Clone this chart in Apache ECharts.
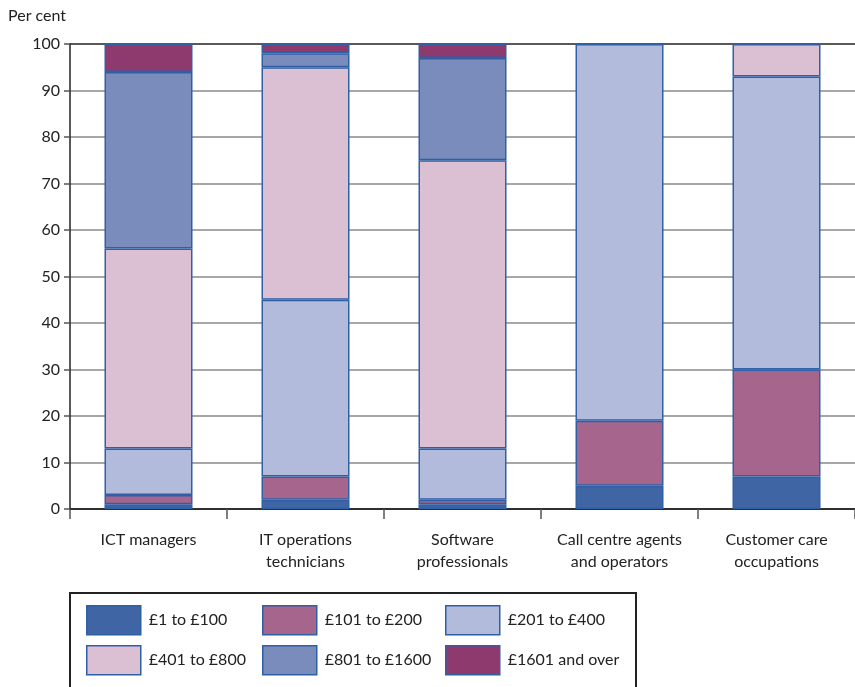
<!DOCTYPE html>
<html>
<head>
<meta charset="utf-8">
<script src="https://cdn.jsdelivr.net/npm/echarts@6/dist/echarts.min.js"></script>
<style>
html, body { margin: 0; padding: 0; background: #fff; }
#chartmain { width: 855px; height: 687px; }
</style>
</head>
<body>
<div id="chartmain"></div>
<script>
var categories = ['ICT managers', 'IT operations\ntechnicians', 'Software\nprofessionals',
	'Call centre agents\nand operators', 'Customer care\noccupations'];
var bandNames = ['£1 to £100', '£101 to £200', '£201 to £400', '£401 to £800', '£801 to £1600', '£1601 and over'];
var band1 = [1, 2, 1, 5, 7];
var band2 = [2, 5, 1, 14, 23];
var band3 = [10, 38, 11, 81, 63];
var band4 = [43, 50, 62, 0, 7];
var band5 = [38, 3, 22, 0, 0];
var band6 = [6, 2, 3, 0, 0];
var bandColors = ['#4065a4', '#a6658c', '#b2bbdb', '#dbc0d4', '#7a8cbc', '#8e3a6f'];

var bands = [band1, band2, band3, band4, band5, band6];
var font = 'Lato, "Open Sans", sans-serif';

var series = bands.map(function(vals, i) {
	return {
		name : bandNames[i],
		type : 'bar',
		stack : 'total',
		barWidth : 88,
		itemStyle : {
			color : bandColors[i],
			borderColor : '#2f5fa5',
			borderWidth : 1.5
		},
		data : vals.map(function(v) { return v === 0 ? '-' : v; })
	};
});

// one legend per entry so the columns line up like the original
var legendPos = [[86, 605], [262, 605], [445, 605], [86, 645], [262, 645], [445, 645]];
var legends = bandNames.map(function(n, i) {
	return {
		left : legendPos[i][0],
		top : legendPos[i][1],
		padding : 0,
		data : [n],
		icon : 'rect',
		itemWidth : 54,
		itemHeight : 29,
		itemGap : 0,
		itemStyle : { borderColor : '#2f5fa5', borderWidth : 1.5 },
		textStyle : { fontSize : 16, color : '#222', fontFamily : font, padding : [0, 0, 0, 3] },
		selectedMode : false
	};
});

var gridColors = ['#222'];
for (var k = 0; k < 9; k++) gridColors.push('#8a8a8a');
gridColors.push('#222');

var option = {
	animation : false,
	textStyle : { fontFamily : font },
	grid : { left : 70, right : 0, top : 44, bottom : 178 },
	legend : legends,
	graphic : [{
		type : 'rect',
		shape : { x : 70, y : 593, width : 566, height : 110 },
		style : { fill : 'none', stroke : '#222', lineWidth : 2 }
	}],
	xAxis : {
		type : 'category',
		data : categories,
		axisLine : { lineStyle : { color : '#222', width : 1.5 } },
		axisTick : { show : true, interval : 0, length : 10, lineStyle : { color : '#555', width : 1.5 } },
		axisLabel : { interval : 0, fontSize : 16, color : '#222', lineHeight : 22, margin : 20, fontFamily : font }
	},
	yAxis : {
		type : 'value',
		min : 0,
		max : 100,
		interval : 10,
		name : 'Per cent',
		nameLocation : 'end',
		nameGap : 20,
		nameTextStyle : { fontSize : 16, color : '#222', align : 'left', padding : [0, 0, 0, -62], fontFamily : font },
		axisLine : { show : true, lineStyle : { color : '#222', width : 1.5 } },
		axisTick : { show : true, length : 6, lineStyle : { color : '#555', width : 1.5 } },
		axisLabel : { fontSize : 16, color : '#222', margin : 10, fontFamily : font },
		splitLine : { show : true, lineStyle : { color : gridColors, width : 1.5 } }
	},
	series : series
};

var myChart = echarts.init(document.getElementById('chartmain'));
myChart.setOption(option);
</script>
</body>
</html>
